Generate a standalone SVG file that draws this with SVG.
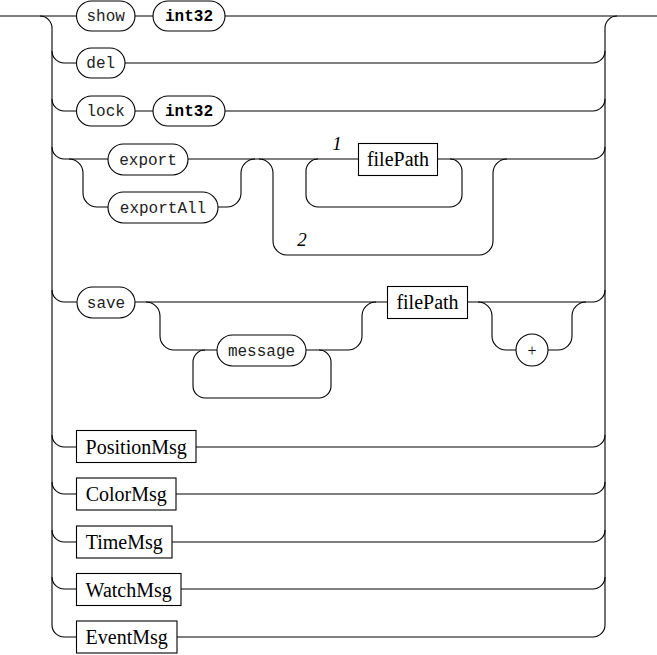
<svg xmlns="http://www.w3.org/2000/svg" width="657" height="655" viewBox="0 0 657 655">
<style>
.c{fill:none;stroke:#000;stroke-width:1.1}
.t{fill:#fff;stroke:#000;stroke-width:1.1}
.nt{fill:#fff;stroke:#000;stroke-width:1.1}
.m{font-family:"Liberation Mono",monospace;font-size:16px;text-anchor:middle;fill:#222}
.b{font-weight:bold;fill:#000}
.s{font-family:"Liberation Serif",serif;font-size:20px;text-anchor:middle;fill:#000}
.l{font-family:"Liberation Serif",serif;font-size:19px;font-style:italic;text-anchor:middle;fill:#000}
</style>
<rect width="657" height="655" fill="#fff"/>
<g id="connectors">
<path class="c" d="M0,16 H76 M135,16 H153 M225,16 H657"/>
<path class="c" d="M40,16 a12,12 0 0 1 12,12 V625 a12,12 0 0 0 12,12 H76"/>
<path class="c" d="M617,16 a12,12 0 0 0 -12,12 V625"/>
<path class="c" d="M52,51 a12,12 0 0 0 12,12 H76 M125,63 H593 a12,12 0 0 0 12,-12"/>
<path class="c" d="M52,99 a12,12 0 0 0 12,12 H76 M135,111 H153 M225,111 H593 a12,12 0 0 0 12,-12"/>
<path class="c" d="M52,147 a12,12 0 0 0 12,12 H108 M188,159 H358 M438,159 H593 a12,12 0 0 0 12,-12"/>
<path class="c" d="M69,159 a14,14 0 0 1 14,14 V193 a14,14 0 0 0 14,14 H108"/>
<path class="c" d="M218,207 H227 a14,14 0 0 0 14,-14 V173 a14,14 0 0 1 14,-14"/>
<path class="c" d="M259,159 a14,14 0 0 1 14,14 V241 a14,14 0 0 0 14,14 H479 a14,14 0 0 0 14,-14 V173 a14,14 0 0 1 14,-14"/>
<path class="c" d="M450,159 a12,12 0 0 1 12,12 V195 a12,12 0 0 1 -12,12 H318 a12,12 0 0 1 -12,-12 V171 a12,12 0 0 1 12,-12"/>
<path class="c" d="M52,290 a12,12 0 0 0 12,12 H77 M135,302 H388 M468,302 H593 a12,12 0 0 0 12,-12"/>
<path class="c" d="M146,302 a14,14 0 0 1 14,14 V336 a14,14 0 0 0 14,14 H217"/>
<path class="c" d="M306,350 H348 a14,14 0 0 0 14,-14 V316 a14,14 0 0 1 14,-14"/>
<path class="c" d="M319,350 a12,12 0 0 1 12,12 V386 a12,12 0 0 1 -12,12 H205 a12,12 0 0 1 -12,-12 V362 a12,12 0 0 1 12,-12"/>
<path class="c" d="M478,302 a14,14 0 0 1 14,14 V336 a14,14 0 0 0 14,14 H516 M548,350 H558 a14,14 0 0 0 14,-14 V316 a14,14 0 0 1 14,-14"/>
<path class="c" d="M52,435 a12,12 0 0 0 12,12 H76 M196,447 H593 a12,12 0 0 0 12,-12"/>
<path class="c" d="M52,482 a12,12 0 0 0 12,12 H76 M176,494 H593 a12,12 0 0 0 12,-12"/>
<path class="c" d="M52,530 a12,12 0 0 0 12,12 H76 M172,542 H593 a12,12 0 0 0 12,-12"/>
<path class="c" d="M52,577 a12,12 0 0 0 12,12 H76 M181,589 H593 a12,12 0 0 0 12,-12"/>
<path class="c" d="M177,637 H593 a12,12 0 0 0 12,-12"/>
<text class="l" x="337" y="150">1</text>
<text class="l" x="302" y="246">2</text>
</g>
<g id="show"><rect class="t" x="76.5" y="1" width="58.5" height="30" rx="15"/><text class="m" x="105.7" y="21">show</text></g>
<g id="show-int32"><rect class="t" x="153" y="1" width="72" height="30" rx="15"/><text class="m b" x="189" y="21">int32</text></g>
<g id="del"><rect class="t" x="76.5" y="48" width="48.5" height="30" rx="15"/><text class="m" x="100.7" y="68">del</text></g>
<g id="lock"><rect class="t" x="76.5" y="96" width="58.5" height="30" rx="15"/><text class="m" x="105.7" y="116">lock</text></g>
<g id="lock-int32"><rect class="t" x="153" y="96" width="72" height="30" rx="15"/><text class="m b" x="189" y="116">int32</text></g>
<g id="export"><rect class="t" x="108" y="144" width="80" height="31" rx="15.5"/><text class="m" x="148" y="164.5">export</text></g>
<g id="exportAll"><rect class="t" x="108" y="192" width="110" height="31" rx="15.5"/><text class="m" x="163" y="212.5">exportAll</text></g>
<g id="filePath1"><rect class="nt" x="358.5" y="143.5" width="79" height="32"/><text class="s" x="398" y="166">filePath</text></g>
<g id="save"><rect class="t" x="77" y="287" width="58" height="31" rx="15.5"/><text class="m" x="106" y="307.5">save</text></g>
<g id="message"><rect class="t" x="217" y="335" width="89" height="31" rx="15.5"/><text class="m" x="261.5" y="355.5">message</text></g>
<g id="filePath2"><rect class="nt" x="387.5" y="286.5" width="80" height="32"/><text class="s" x="427.5" y="309">filePath</text></g>
<g id="plus"><circle class="t" cx="532" cy="350" r="16"/><text class="s" x="532" y="356" style="font-size:16px">+</text></g>
<g id="PositionMsg"><rect class="nt" x="76.5" y="430.5" width="119.5" height="32"/><text class="s" x="136.2" y="453.5">PositionMsg</text></g>
<g id="ColorMsg"><rect class="nt" x="76.5" y="478" width="99.5" height="32"/><text class="s" x="126.2" y="501">ColorMsg</text></g>
<g id="TimeMsg"><rect class="nt" x="76.5" y="526" width="95.5" height="32"/><text class="s" x="124.2" y="549">TimeMsg</text></g>
<g id="WatchMsg"><rect class="nt" x="76.5" y="573.5" width="104.5" height="32"/><text class="s" x="128.7" y="596.5">WatchMsg</text></g>
<g id="EventMsg"><rect class="nt" x="76.5" y="621" width="100.5" height="32"/><text class="s" x="126.7" y="644">EventMsg</text></g>
</svg>
